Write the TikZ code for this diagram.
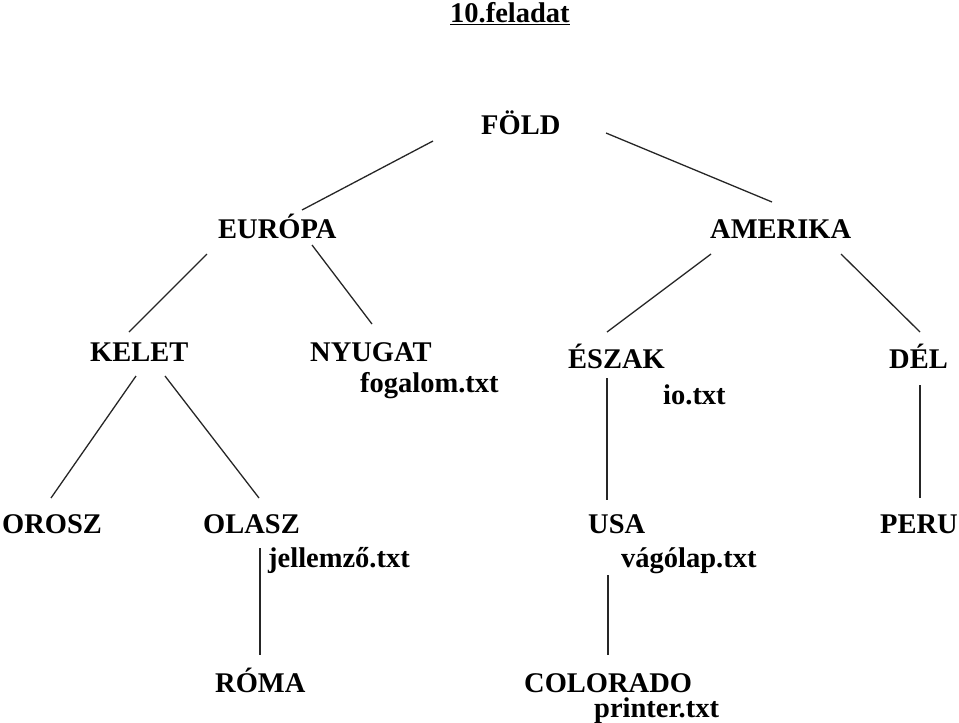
\documentclass[tikz,border=0pt]{standalone}
\usepackage{fontspec}
\setmainfont{Liberation Serif}[BoldFont={Liberation Serif Bold}]
\newfontfamily\lblfont{Liberation Serif Bold}
\begin{document}
\begin{tikzpicture}[x=1pt,y=-1pt,
  lbl/.style={anchor=base west,inner sep=0pt,font=\lblfont\fontsize{28.5}{34}\selectfont},
  conn/.style={line width=1.3pt,black!85}]
\useasboundingbox (0,0) rectangle (959,723);
\node[lbl] (title) at (450,22) {\underline{10.feladat}};
\node[lbl] (fold) at (481,134) {FÖLD};
\node[lbl] (europa) at (218,238) {EURÓPA};
\node[lbl] (amerika) at (710,238) {AMERIKA};
\node[lbl] (kelet) at (90,361) {KELET};
\node[lbl] (nyugat) at (310,361) {NYUGAT};
\node[lbl] (fogalom) at (360,392) {fogalom.txt};
\node[lbl] (eszak) at (568,368) {ÉSZAK};
\node[lbl] (io) at (663,404) {io.txt};
\node[lbl] (del) at (889,368) {DÉL};
\node[lbl] (orosz) at (2,533) {OROSZ};
\node[lbl] (olasz) at (203,533) {OLASZ};
\node[lbl] (jellemzo) at (268,567) {jellemző.txt};
\node[lbl] (usa) at (588,533) {USA};
\node[lbl] (peru) at (880,533) {PERU};
\node[lbl] (vagolap) at (621,567) {vágólap.txt};
\node[lbl] (roma) at (215,692) {RÓMA};
\node[lbl] (colorado) at (524,692) {COLORADO};
\node[lbl] (printer) at (594,717) {printer.txt};
% connector end points
\coordinate (fe1) at (433,141); \coordinate (fe2) at (302,210);
\coordinate (fa1) at (606,133); \coordinate (fa2) at (772,202);
\coordinate (ek1) at (207,254); \coordinate (ek2) at (129,332);
\coordinate (en1) at (312,245); \coordinate (en2) at (372,324);
\coordinate (ae1) at (711,254); \coordinate (ae2) at (607,332);
\coordinate (ad1) at (841,254); \coordinate (ad2) at (920,332);
\coordinate (ko1) at (136,376); \coordinate (ko2) at (51,498);
\coordinate (kl1) at (165,376); \coordinate (kl2) at (259,498);
\coordinate (eu1) at (607,378); \coordinate (eu2) at (607,500);
\coordinate (dp1) at (920,385); \coordinate (dp2) at (920,498);
\coordinate (or1) at (260,548); \coordinate (or2) at (260,655);
\coordinate (uc1) at (608,575); \coordinate (uc2) at (608,655);
\draw[conn] (fe1) -- (fe2);
\draw[conn] (fa1) -- (fa2);
\draw[conn] (ek1) -- (ek2);
\draw[conn] (en1) -- (en2);
\draw[conn] (ae1) -- (ae2);
\draw[conn] (ad1) -- (ad2);
\draw[conn] (ko1) -- (ko2);
\draw[conn] (kl1) -- (kl2);
\draw[conn] (eu1) -- (eu2);
\draw[conn] (dp1) -- (dp2);
\draw[conn] (or1) -- (or2);
\draw[conn] (uc1) -- (uc2);
\end{tikzpicture}
\end{document}
